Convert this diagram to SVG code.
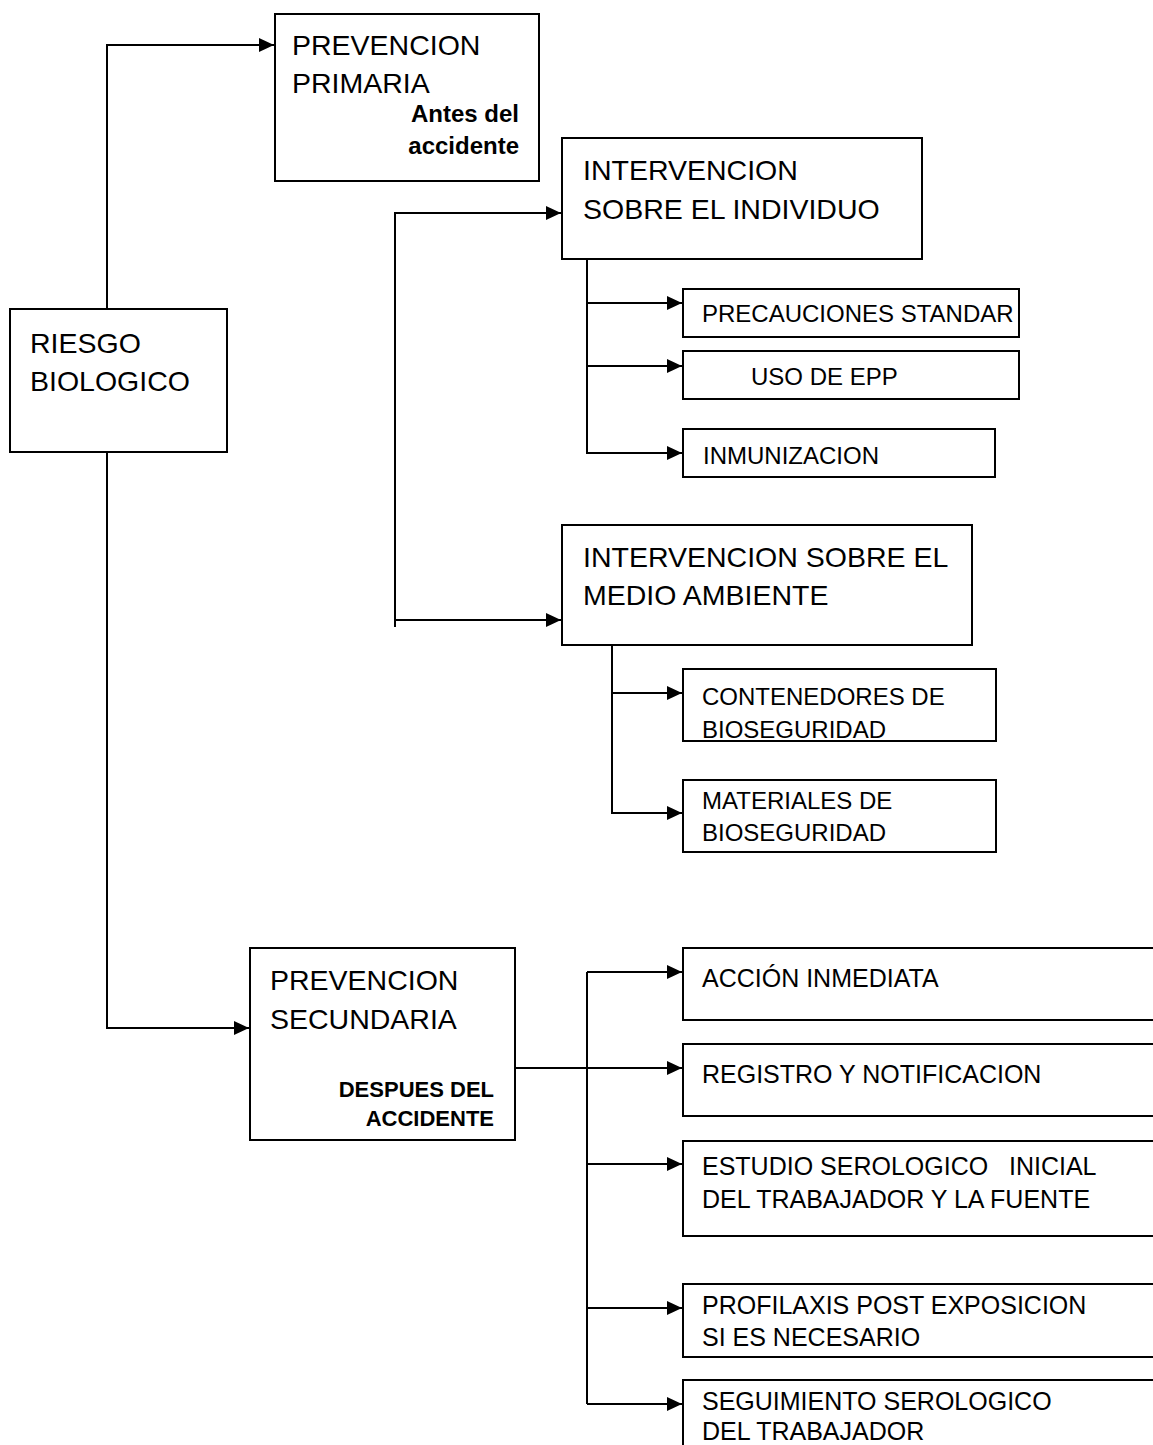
<svg xmlns="http://www.w3.org/2000/svg" width="1153" height="1445" viewBox="0 0 1153 1445">
<style>
.box{fill:#fff;stroke:#000;stroke-width:2}
.big{font-family:"Liberation Sans",Arial,sans-serif;font-size:28.5px;fill:#000}
.sm{font-family:"Liberation Sans",Arial,sans-serif;font-size:24px;fill:#000}
.sm2{font-family:"Liberation Sans",Arial,sans-serif;font-size:25px;fill:#000}
.bold{font-family:"Liberation Sans",Arial,sans-serif;font-size:24px;font-weight:bold;fill:#000;text-anchor:end}
.bold2{font-family:"Liberation Sans",Arial,sans-serif;font-size:22px;font-weight:bold;fill:#000;text-anchor:end}
.ln{fill:none;stroke:#000;stroke-width:2}
.ar{fill:none;stroke:#000;stroke-width:2;marker-end:url(#arr)}
</style>
<defs>
<marker id="arr" markerUnits="userSpaceOnUse" markerWidth="16" markerHeight="14" refX="15" refY="7" orient="auto">
<path d="M0,0 L15,7 L0,14 z" fill="#000"/>
</marker>
</defs>
<rect width="1153" height="1445" fill="#fff"/>
<g id="connectors">
<path class="ar" d="M107,309 V45 H274"/>
<path class="ar" d="M395,627 V213 H561"/>
<path class="ar" d="M395,620 H561"/>
<path class="ar" d="M587,259 V453 H682"/>
<path class="ar" d="M587,303 H682"/>
<path class="ar" d="M587,366 H682"/>
<path class="ar" d="M612,644 V813 H682"/>
<path class="ar" d="M612,693 H682"/>
<path class="ar" d="M107,452 V1028 H249"/>
<path class="ar" d="M515,1068 H682"/>
<path class="ln" d="M587,972 V1404"/>
<path class="ar" d="M587,972 H682"/>
<path class="ar" d="M587,1164 H682"/>
<path class="ar" d="M587,1308 H682"/>
<path class="ar" d="M587,1404 H682"/>
</g>
<g id="riesgo">
<rect class="box" x="10" y="309" width="217" height="143"/>
<text class="big" x="30" y="353">RIESGO</text>
<text class="big" x="30" y="391">BIOLOGICO</text>
</g>
<g id="primaria">
<rect class="box" x="275" y="14" width="264" height="167"/>
<text class="big" x="292" y="55">PREVENCION</text>
<text class="big" x="292" y="93">PRIMARIA</text>
<text class="bold" x="519" y="122">Antes del</text>
<text class="bold" x="519" y="154">accidente</text>
</g>
<g id="individuo">
<rect class="box" x="562" y="138" width="360" height="121"/>
<text class="big" x="583" y="180">INTERVENCION</text>
<text class="big" x="583" y="219">SOBRE EL INDIVIDUO</text>
</g>
<g id="precauciones">
<rect class="box" x="683" y="289" width="336" height="48"/>
<text class="sm" x="702" y="322">PRECAUCIONES STANDAR</text>
</g>
<g id="epp">
<rect class="box" x="683" y="351" width="336" height="48"/>
<text class="sm" x="751" y="385">USO DE EPP</text>
</g>
<g id="inmunizacion">
<rect class="box" x="683" y="429" width="312" height="48"/>
<text class="sm" x="703" y="464">INMUNIZACION</text>
</g>
<g id="medio">
<rect class="box" x="562" y="525" width="410" height="120"/>
<text class="big" x="583" y="567">INTERVENCION SOBRE EL</text>
<text class="big" x="583" y="605">MEDIO AMBIENTE</text>
</g>
<g id="contenedores">
<rect class="box" x="683" y="669" width="313" height="72"/>
<text class="sm" x="702" y="705">CONTENEDORES DE</text>
<text class="sm" x="702" y="738">BIOSEGURIDAD</text>
</g>
<g id="materiales">
<rect class="box" x="683" y="780" width="313" height="72"/>
<text class="sm" x="702" y="809">MATERIALES DE</text>
<text class="sm" x="702" y="841">BIOSEGURIDAD</text>
</g>
<g id="secundaria">
<rect class="box" x="250" y="948" width="265" height="192"/>
<text class="big" x="270" y="990">PREVENCION</text>
<text class="big" x="270" y="1029">SECUNDARIA</text>
<text class="bold2" x="494" y="1097">DESPUES DEL</text>
<text class="bold2" x="494" y="1126">ACCIDENTE</text>
</g>
<g id="accion">
<rect class="box" x="683" y="948" width="480" height="72"/>
<text class="sm2" x="702" y="987">ACCIÓN INMEDIATA</text>
</g>
<g id="registro">
<rect class="box" x="683" y="1044" width="480" height="72"/>
<text class="sm2" x="702" y="1083">REGISTRO Y NOTIFICACION</text>
</g>
<g id="estudio">
<rect class="box" x="683" y="1141" width="480" height="95"/>
<text class="sm2" x="702" y="1175" style="white-space:pre">ESTUDIO SEROLOGICO   INICIAL</text>
<text class="sm2" x="702" y="1208">DEL TRABAJADOR Y LA FUENTE</text>
</g>
<g id="profilaxis">
<rect class="box" x="683" y="1284" width="480" height="73"/>
<text class="sm2" x="702" y="1314">PROFILAXIS POST EXPOSICION</text>
<text class="sm2" x="702" y="1346">SI ES NECESARIO</text>
</g>
<g id="seguimiento">
<rect class="box" x="683" y="1380" width="480" height="80"/>
<text class="sm2" x="702" y="1410">SEGUIMIENTO SEROLOGICO</text>
<text class="sm2" x="702" y="1440">DEL TRABAJADOR</text>
</g>
</svg>
